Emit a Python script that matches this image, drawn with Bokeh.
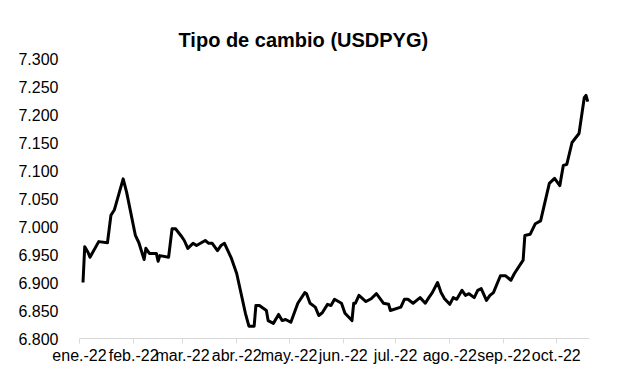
import pandas as pd
from bokeh.plotting import figure
from bokeh.models import FixedTicker, Range1d, Title
from bokeh.embed import file_html
from bokeh.resources import INLINE

# ---- data ----
dates = [
    "2022-01-03", "2022-01-04", "2022-01-06", "2022-01-07", "2022-01-12", "2022-01-17",
    "2022-01-19", "2022-01-21", "2022-01-26", "2022-01-28", "2022-02-02", "2022-02-04",
    "2022-02-07", "2022-02-08", "2022-02-10", "2022-02-14", "2022-02-15", "2022-02-16",
    "2022-02-21", "2022-02-23", "2022-02-25", "2022-02-28", "2022-03-02", "2022-03-04",
    "2022-03-07", "2022-03-09", "2022-03-14", "2022-03-16", "2022-03-18", "2022-03-21",
    "2022-03-23", "2022-03-25", "2022-03-29", "2022-04-01", "2022-04-06", "2022-04-08",
    "2022-04-11", "2022-04-12", "2022-04-14", "2022-04-18", "2022-04-19", "2022-04-22",
    "2022-04-25", "2022-04-27", "2022-04-29", "2022-05-02", "2022-05-06", "2022-05-10",
    "2022-05-11", "2022-05-13", "2022-05-16", "2022-05-18", "2022-05-20", "2022-05-23",
    "2022-05-25", "2022-05-27", "2022-05-31", "2022-06-02", "2022-06-06", "2022-06-07",
    "2022-06-08", "2022-06-10", "2022-06-14", "2022-06-17", "2022-06-20", "2022-06-24",
    "2022-06-27", "2022-06-28", "2022-07-04", "2022-07-06", "2022-07-08", "2022-07-11",
    "2022-07-15", "2022-07-18", "2022-07-20", "2022-07-22", "2022-07-25", "2022-07-27",
    "2022-07-29", "2022-08-01", "2022-08-03", "2022-08-05", "2022-08-08", "2022-08-10",
    "2022-08-12", "2022-08-15", "2022-08-17", "2022-08-19", "2022-08-22", "2022-08-24",
    "2022-08-26", "2022-08-30", "2022-09-02", "2022-09-05", "2022-09-07", "2022-09-12",
    "2022-09-13", "2022-09-16", "2022-09-19", "2022-09-22", "2022-09-27", "2022-09-30",
    "2022-10-03", "2022-10-05", "2022-10-07", "2022-10-10", "2022-10-14", "2022-10-17",
    "2022-10-18", "2022-10-19",
]
usdpyg = [
    6.900, 6.964, 6.953, 6.945, 6.973, 6.971,
    7.020, 7.030, 7.085, 7.061, 6.984, 6.971,
    6.941, 6.961, 6.952, 6.952, 6.938, 6.948,
    6.945, 6.996, 6.996, 6.984, 6.975, 6.961,
    6.970, 6.966, 6.975, 6.970, 6.970, 6.957,
    6.966, 6.970, 6.943, 6.916, 6.845, 6.822,
    6.822, 6.859, 6.859, 6.850, 6.832, 6.827,
    6.843, 6.832, 6.834, 6.829, 6.863, 6.882,
    6.880, 6.863, 6.856, 6.841, 6.846, 6.861,
    6.859, 6.870, 6.863, 6.845, 6.832, 6.863,
    6.863, 6.877, 6.866, 6.871, 6.880, 6.863,
    6.861, 6.850, 6.856, 6.870, 6.870, 6.863,
    6.873, 6.863, 6.873, 6.882, 6.900, 6.882,
    6.871, 6.861, 6.873, 6.870, 6.886, 6.877,
    6.880, 6.873, 6.886, 6.889, 6.868, 6.877,
    6.882, 6.912, 6.912, 6.904, 6.916, 6.940,
    6.984, 6.986, 7.005, 7.010, 7.077, 7.086,
    7.073, 7.109, 7.111, 7.150, 7.166, 7.230,
    7.234, 7.223,
]
month_starts = ["2022-01-01", "2022-02-01", "2022-03-01", "2022-04-01", "2022-05-01",
                "2022-06-01", "2022-07-01", "2022-08-01", "2022-09-01", "2022-10-01"]
month_labels = ["ene.-22", "feb.-22", "mar.-22", "abr.-22", "may.-22",
                "jun.-22", "jul.-22", "ago.-22", "sep.-22", "oct.-22"]
y_ticks = [6.80, 6.85, 6.90, 6.95, 7.00, 7.05, 7.10, 7.15, 7.20, 7.25, 7.30]
y_labels = ["6.800", "6.850", "6.900", "6.950", "7.000", "7.050", "7.100",
            "7.150", "7.200", "7.250", "7.300"]
x_start, x_end = "2022-01-01", "2022-10-20"
title_text = "Tipo de cambio (USDPYG)"

FONT = "Liberation Sans"


def ms(s):
    return int(pd.Timestamp(s).value // 10**6)


x = pd.to_datetime(dates)

p = figure(width=600, height=370, output_backend="svg", toolbar_location=None,
           x_axis_type="datetime",
           x_range=Range1d(pd.Timestamp(x_start), pd.Timestamp(x_end)),
           y_range=Range1d(6.8, 7.3),
           min_border_left=79, min_border_right=11, min_border_top=58, min_border_bottom=32)

p.line(x, usdpyg, line_color="black", line_width=3, line_join="round")

t = Title(text=title_text, align="left", offset=99,
          text_font=FONT, text_font_size="20px", text_font_style="bold",
          text_color="black", standoff=16)
p.add_layout(t, "above")

p.outline_line_color = None
p.xgrid.grid_line_color = None
p.ygrid.grid_line_color = None

# x axis
xt = [ms(s) for s in month_starts]
p.xaxis.ticker = FixedTicker(ticks=xt)
p.xaxis.major_label_overrides = {t_: l for t_, l in zip(xt, month_labels)}
p.xaxis.axis_line_color = "#d9d9d9"
p.xaxis.major_tick_line_color = "#d9d9d9"
p.xaxis.major_tick_in = 0
p.xaxis.major_tick_out = 5
p.xaxis.minor_tick_line_color = None
p.xaxis.major_label_text_font = FONT
p.xaxis.major_label_text_font_size = "16px"
p.xaxis.major_label_text_color = "black"
p.xaxis.major_label_standoff = 3

# y axis
p.yaxis.ticker = FixedTicker(ticks=y_ticks)
p.yaxis.major_label_overrides = {v: l for v, l in zip(y_ticks, y_labels)}
p.yaxis.axis_line_color = None
p.yaxis.major_tick_line_color = None
p.yaxis.minor_tick_line_color = None
p.yaxis.major_label_text_font = FONT
p.yaxis.major_label_text_font_size = "16px"
p.yaxis.major_label_text_color = "black"
p.yaxis.major_label_standoff = 15

open("out.html", "w").write(file_html(p, INLINE))
